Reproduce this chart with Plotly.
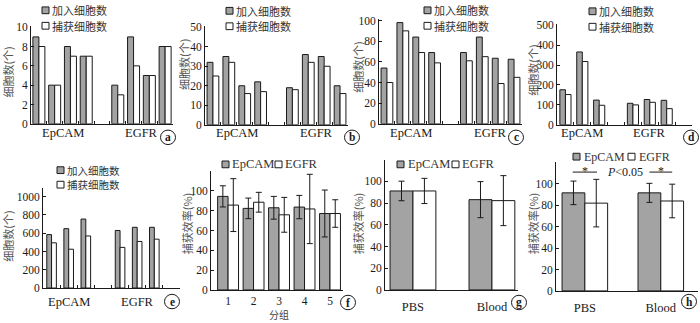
import plotly.graph_objects as go

W, H = 700, 323
SERIF = "Liberation Serif, Times New Roman, Noto Sans CJK SC, serif"
CJK = "Noto Sans CJK SC, Liberation Serif, sans-serif"
GRAY = "#a3a3a3"
INK = "#1a1a1a"

# ---------------- data ----------------
groups = ["EpCAM", "EGFR"]
legend_cn = ["加入细胞数", "捕获细胞数"]
legend_en = ["EpCAM", "EGFR"]
count_title = "细胞数(个)"
eff_title = "捕获效率(%)"
f_xtitle = "分组"

a_added = [9, 4, 8, 7, 4, 9, 5, 8]
a_captured = [8, 4, 7, 7, 3, 6, 5, 8]
b_added = [32, 35, 20, 22, 19, 36, 35, 20]
b_captured = [25, 32, 16, 17, 18, 32, 30, 16]
c_added = [54, 98, 84, 69, 69, 84, 63.5, 62.5]
c_captured = [40, 90, 69, 59, 61, 65, 39, 45]
d_added = [176, 366, 124, 108, 127, 123]
d_captured = [152, 318, 98, 100, 113, 81]
e_added = [585, 650, 755, 630, 665, 665]
e_captured = [495, 425, 570, 445, 510, 535]

a_yticks = [0, 2, 4, 6, 8, 10]
b_yticks = [0, 10, 20, 30, 40, 50]
c_yticks = [0, 20, 40, 60, 80, 100]
d_yticks = [0, 100, 200, 300, 400, 500]
e_yticks = [0, 200, 400, 600, 800, 1000]
eff_yticks = [0, 20, 40, 60, 80, 100]

f_groups = [1, 2, 3, 4, 5]
f_epcam = [94.5, 82.4, 83.0, 83.7, 77.2]
f_epcam_sd = [10.7, 10.4, 11.5, 11.8, 23.7]
f_egfr = [85.7, 88.6, 75.9, 81.8, 77.2]
f_egfr_sd = [26.7, 10.0, 17.6, 35.0, 13.9]

gh_cats = ["PBS", "Blood"]
g_epcam = [91.1, 83.1]
g_epcam_sd = [9.0, 16.6]
g_egfr = [91.1, 82.2]
g_egfr_sd = [11.6, 23.0]
h_epcam = [91.6, 91.6]
h_epcam_sd = [11.0, 8.9]
h_egfr = [82.0, 84.0]
h_egfr_sd = [22.2, 15.7]
h_sig_y = 111
h_p_text = "<i>P</i>&lt;0.05"

# ---------------- helpers ----------------
def px(x):
    return x / W

def py(y):
    return 1 - y / H

fig = go.Figure()
layout = {}
annotations = []
shapes = []


def names(i):
    s = "" if i == 1 else str(i)
    return "x" + s, "y" + s, "xaxis" + s, "yaxis" + s


def setup_axes(i, x0, x1, y0, ytop, xrange, yrange, ytickvals,
               xtickvals, xticktext=None, xticks="inside", standoff=5,
               xfont=12.5):
    xr, yr, xa, ya = names(i)
    layout[xa] = dict(domain=[px(x0), px(x1)], anchor=yr, range=xrange,
                      showline=True, linecolor=INK, linewidth=1,
                      showgrid=False, zeroline=False,
                      tickvals=xtickvals, ticks=xticks, ticklen=3,
                      tickcolor=INK, tickwidth=1,
                      showticklabels=xticktext is not None,
                      ticktext=xticktext, ticklabelstandoff=standoff,
                      tickfont=dict(family=SERIF, size=xfont, color=INK))
    layout[ya] = dict(domain=[py(y0), py(ytop)], anchor=xr, range=yrange,
                      showline=True, linecolor=INK, linewidth=1,
                      showgrid=False, zeroline=False,
                      tickvals=ytickvals, ticks="inside", ticklen=3,
                      tickcolor=INK, tickwidth=1,
                      tickfont=dict(family=SERIF, size=11.5, color=INK))
    return xr, yr


def bar_pair(xr, yr, xpos, v1, v2, w, e1=None, e2=None):
    for vals, col, off, err in ((v1, GRAY, -w, e1), (v2, "white", 0, e2)):
        kw = {}
        if err is not None:
            kw["error_y"] = dict(type="data", array=err, visible=True,
                                 color=INK, thickness=1, width=3)
        fig.add_trace(go.Bar(x=xpos, y=vals, width=w, offset=off,
                             marker=dict(color=col, line=dict(color=INK, width=1)),
                             xaxis=xr, yaxis=yr, showlegend=False,
                             hoverinfo="skip", **kw))


def ytitle(x, y, text):
    annotations.append(dict(x=px(x), y=py(y), xref="paper", yref="paper",
                            text=text, textangle=-90, showarrow=False,
                            xanchor="center", yanchor="middle",
                            font=dict(family=CJK, size=11, color="#555")))


def circle_label(cx, cy, letter):
    r = 7.5
    shapes.append(dict(type="circle", xref="paper", yref="paper",
                       x0=px(cx - r), x1=px(cx + r), y0=py(cy + r), y1=py(cy - r),
                       line=dict(color=INK, width=1)))
    annotations.append(dict(x=px(cx), y=py(cy), xref="paper", yref="paper",
                            text="<b>%s</b>" % letter, showarrow=False,
                            xanchor="center", yanchor="middle",
                            font=dict(family=SERIF, size=11.5, color=INK)))


def legend_item(sx, tx, y, fill, text, family, size):
    s = 7
    shapes.append(dict(type="rect", xref="paper", yref="paper",
                       x0=px(sx), x1=px(sx + s), y0=py(y + s / 2), y1=py(y - s / 2),
                       fillcolor=fill, line=dict(color=INK, width=1)))
    annotations.append(dict(x=px(tx), y=py(y), xref="paper", yref="paper",
                            text=text, showarrow=False, xanchor="left",
                            yanchor="middle",
                            font=dict(family=family, size=size, color="#333")))


# ---------------- count panels a-e ----------------
count_panels = [
    dict(i=1, added=a_added, cap=a_captured, yt=a_yticks, rmax=10.1,
         x0=31, x1=173, y0=123, ytop=22, w=0.38, trail=0, lab_y=133,
         tx=8, ty=70, circ=(168, 137, "a"), leg=(42, 50, 5.5, 21.5), ls=11),
    dict(i=2, added=b_added, cap=b_captured, yt=b_yticks, rmax=50.5,
         x0=205, x1=348, y0=124, ytop=22, w=0.37, trail=0, lab_y=133,
         tx=184, ty=62, circ=(352, 137, "b"), leg=(226, 234, 6, 22), ls=11),
    dict(i=3, added=c_added, cap=c_captured, yt=c_yticks, rmax=101,
         x0=379, x1=522, y0=123, ytop=15, w=0.37, trail=0, lab_y=133,
         tx=358, ty=65, circ=(516, 137, "c"), leg=(424, 432, 5.5, 21.5), ls=11),
    dict(i=4, added=d_added, cap=d_captured, yt=d_yticks, rmax=505,
         x0=557, x1=692, y0=124, ytop=20, w=0.33, trail=1, lab_y=133,
         tx=533, ty=68, circ=(691, 137, "d"), leg=(589, 597, 6.5, 22.5), ls=11),
    dict(i=5, added=e_added, cap=e_captured, yt=e_yticks, rmax=1100,
         x0=43, x1=180, y0=293, ytop=189, w=0.28, trail=1, lab_y=307,
         tx=8, ty=240, circ=(172, 307, "e"), leg=(57, 65, 171, 186), ls=10.5),
]

for p in count_panels:
    k = len(p["added"]) // 2
    n = 2 * k + 1 + p["trail"]
    xpos = [g * (k + 1) + j for g in range(2) for j in range(k)]
    xr, yr = setup_axes(p["i"], p["x0"], p["x1"], p["y0"], p["ytop"],
                        [-0.5, n - 0.5], [0, p["rmax"]], p["yt"],
                        [b + 0.5 for b in range(n - 1)])
    bar_pair(xr, yr, xpos, p["added"], p["cap"], p["w"])
    for g, name in enumerate(groups):
        annotations.append(dict(x=g * (k + 1) + (k - 1) / 2, y=py(p["lab_y"]),
                                xref=xr, yref="paper", text=name,
                                showarrow=False, xanchor="center", yanchor="middle",
                                font=dict(family=SERIF, size=12.5, color=INK)))
    ytitle(p["tx"], p["ty"], count_title)
    circle_label(*p["circ"])
    sx, tx, r1, r2 = p["leg"]
    legend_item(sx, tx, r1, GRAY, legend_cn[0], CJK, p["ls"])
    legend_item(sx, tx, r2, "white", legend_cn[1], CJK, p["ls"])

# ---------------- panel f ----------------
xr, yr = setup_axes(6, 211, 343, 295, 172, [0.33, 5.51], [0, 120], eff_yticks,
                    f_groups, [str(v) for v in f_groups], xticks="", standoff=0,
                    xfont=11.5)
bar_pair(xr, yr, f_groups, f_epcam, f_egfr, 0.41, f_epcam_sd, f_egfr_sd)
annotations.append(dict(x=3, y=py(320), xref=xr, yref="paper", text=f_xtitle,
                        showarrow=False, xanchor="center", yanchor="middle",
                        font=dict(family=CJK, size=10, color="#444")))
ytitle(187, 226, eff_title)
circle_label(348, 308, "f")
legend_item(222, 230, 165, GRAY, legend_en[0], SERIF, 12.5)
legend_item(275, 283, 165, "white", legend_en[1], SERIF, 12.5)

# ---------------- panel g ----------------
xr, yr = setup_axes(7, 385, 518, 295, 160, [0.646, 2.33], [0, 120], eff_yticks,
                    [1, 2], gh_cats, xticks="")
bar_pair(xr, yr, [1, 2], g_epcam, g_egfr, 0.29, g_epcam_sd, g_egfr_sd)
ytitle(358, 226, eff_title)
circle_label(519, 308, "g")
legend_item(397, 406, 165, GRAY, legend_en[0], SERIF, 12.5)
legend_item(452, 460, 165, "white", legend_en[1], SERIF, 12.5)

# ---------------- panel h ----------------
xr, yr = setup_axes(8, 556, 698, 296, 163, [0.62, 2.49], [0, 120], eff_yticks,
                    [1, 2], gh_cats, xticks="")
bar_pair(xr, yr, [1, 2], h_epcam, h_egfr, 0.30, h_epcam_sd, h_egfr_sd)
ytitle(533, 226, eff_title)
circle_label(689, 307, "h")
legend_item(573, 582, 157, GRAY, legend_en[0], SERIF, 12)
legend_item(628, 637, 157, "white", legend_en[1], SERIF, 12)
for cx, half in ((1, 0.16), (2, 0.15)):
    shapes.append(dict(type="line", xref=xr, yref=yr, x0=cx - half, x1=cx + half,
                       y0=h_sig_y, y1=h_sig_y, line=dict(color=INK, width=1)))
    annotations.append(dict(x=cx, y=h_sig_y, xref=xr, yref=yr, text="*",
                            showarrow=False, xanchor="center", yanchor="middle",
                            yshift=1, font=dict(family=SERIF, size=12, color=INK)))
annotations.append(dict(x=1.53, y=h_sig_y, xref=xr, yref=yr, text=h_p_text,
                        showarrow=False, xanchor="center", yanchor="middle",
                        font=dict(family=SERIF, size=12, color=INK)))

fig.update_layout(width=W, height=H, margin=dict(l=0, r=0, t=0, b=0),
                  paper_bgcolor="white", plot_bgcolor="white",
                  barmode="overlay", showlegend=False,
                  annotations=annotations, shapes=shapes, **layout)
fig.write_html("out.html")
